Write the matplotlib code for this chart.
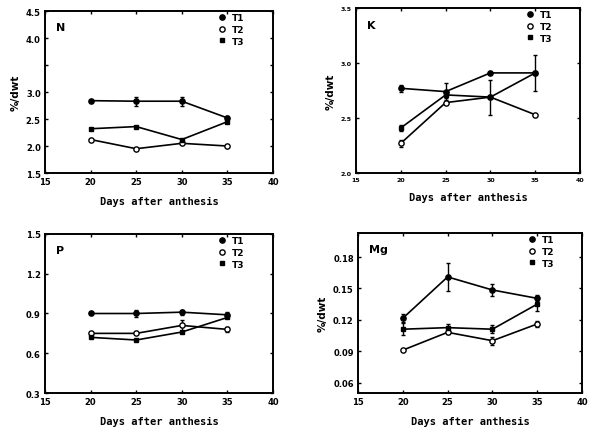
import matplotlib
matplotlib.use("Agg")
import matplotlib.pyplot as plt
from matplotlib.lines import Line2D

# ─────────────────────────────────────
# DATA
# ─────────────────────────────────────
days = [20, 25, 30, 35]
treatments = ["T1", "T2", "T3"]

n_t1 = [2.84, 2.83, 2.83, 2.52]
n_t2 = [2.12, 1.95, 2.05, 2.00]
n_t3 = [2.32, 2.36, 2.12, 2.45]
n_t1_err = [0.0, 0.08, 0.08, 0.04]
n_t3_err = [0.0, 0.0, 0.0, 0.03]

k_t1 = [2.77, 2.74, 2.91, 2.91]
k_t2 = [2.27, 2.64, 2.69, 2.53]
k_t3 = [2.41, 2.71, 2.69, 2.91]
k_t1_err = [0.03, 0.08, 0.0, 0.16]
k_t2_err = [0.03, 0.0, 0.16, 0.0]
k_t3_err = [0.03, 0.03, 0.0, 0.0]

p_t1 = [0.90, 0.90, 0.91, 0.89]
p_t2 = [0.75, 0.75, 0.81, 0.78]
p_t3 = [0.72, 0.70, 0.76, 0.87]
p_t1_err = [0.0, 0.03, 0.02, 0.02]
p_t2_err = [0.0, 0.0, 0.04, 0.02]

mg_t1 = [0.1215, 0.161, 0.1485, 0.1405]
mg_t2 = [0.091, 0.108, 0.100, 0.116]
mg_t3 = [0.111, 0.1125, 0.111, 0.135]
mg_t1_err = [0.004, 0.013, 0.006, 0.003]
mg_t2_err = [0.0, 0.002, 0.004, 0.003]
mg_t3_err = [0.006, 0.003, 0.004, 0.007]

x_ticks = [15, 20, 25, 30, 35, 40]

# ─────────────────────────────────────
# STYLE
# ─────────────────────────────────────
plt.rcParams["font.family"] = "DejaVu Sans"
plt.rcParams["font.weight"] = "bold"

MARK = {
    "T1": dict(marker="o", ms=3.8, mfc="black", mec="black"),
    "T2": dict(marker="o", ms=3.8, mfc="white", mec="black", mew=1.0),
    "T3": dict(marker="s", ms=2.5, mfc="black", mec="black"),
}
XFONT = dict(family="DejaVu Sans Mono", weight="bold", fontsize=7.5)


def draw_panel(ax, series, errs, ylim, yticks, ylabels, name,
               ylabel=True, tick_fs=6):
    for key, vals in zip(treatments, series):
        ax.plot(days, vals, color="black", lw=1.2, zorder=2, **MARK[key])
        if errs.get(key) is not None:
            ax.errorbar(days, vals, yerr=errs[key], fmt="none",
                        ecolor="black", elinewidth=1.0, capsize=1.5, zorder=1)

    ax.set_xlim(15, 40)
    ax.set_ylim(*ylim)
    ax.set_xticks(x_ticks)
    ax.set_xticklabels([str(t) for t in x_ticks], fontsize=tick_fs)
    ax.set_yticks(yticks)
    ax.set_yticklabels(ylabels, fontsize=tick_fs)
    ax.tick_params(direction="in", top=True, right=True, length=2.5,
                   width=1.0, pad=3)
    for s in ax.spines.values():
        s.set_linewidth(1.4)

    ax.set_xlabel("Days after anthesis", labelpad=7, **XFONT)
    if ylabel:
        ax.set_ylabel("%/dwt", fontsize=7.5, fontweight="bold", labelpad=4)

    ax.text(0.05, 0.93, name, transform=ax.transAxes, fontsize=8,
            fontweight="bold", va="top", ha="left")

    # legend: markers only, no lines
    handles = [Line2D([], [], ls="none", **MARK[k]) for k in treatments]
    ax.legend(handles, treatments, loc="upper right", frameon=False,
              fontsize=6.5, handlelength=1.0, handletextpad=0.6,
              labelspacing=0.3, borderaxespad=0.2,
              bbox_to_anchor=(0.9, 1.02))


fig = plt.figure(figsize=(5.9, 4.39), dpi=100)

ax_n = fig.add_axes([0.0763, 0.6036, 0.3864, 0.369])
ax_k = fig.add_axes([0.6034, 0.6036, 0.3797, 0.3759])
ax_p = fig.add_axes([0.0763, 0.1025, 0.3864, 0.3622])
ax_mg = fig.add_axes([0.6068, 0.1025, 0.3797, 0.3645])

draw_panel(ax_n, [n_t1, n_t2, n_t3],
           {"T1": n_t1_err, "T3": n_t3_err},
           (1.5, 4.5), [1.5, 2.0, 2.5, 3.0, 3.5, 4.0, 4.5],
           ["1.5", "2.0", "2.5", "3.0", "", "4.0", "4.5"], "N")

draw_panel(ax_k, [k_t1, k_t2, k_t3],
           {"T1": k_t1_err, "T2": k_t2_err, "T3": k_t3_err},
           (2.0, 3.5), [2.0, 2.5, 3.0, 3.5],
           ["2.0", "2.5", "3.0", "3.5"], "K", tick_fs=4.5)

draw_panel(ax_p, [p_t1, p_t2, p_t3],
           {"T1": p_t1_err, "T2": p_t2_err},
           (0.3, 1.5), [0.3, 0.6, 0.9, 1.2, 1.5],
           ["0.3", "0.6", "0.9", "1.2", "1.5"], "P", ylabel=False)

draw_panel(ax_mg, [mg_t1, mg_t2, mg_t3],
           {"T1": mg_t1_err, "T2": mg_t2_err, "T3": mg_t3_err},
           (0.05, 0.203), [0.06, 0.09, 0.12, 0.15, 0.18],
           ["0.06", "0.09", "0.12", "0.15", "0.18"], "Mg")

fig.savefig("out.png", dpi=100)
